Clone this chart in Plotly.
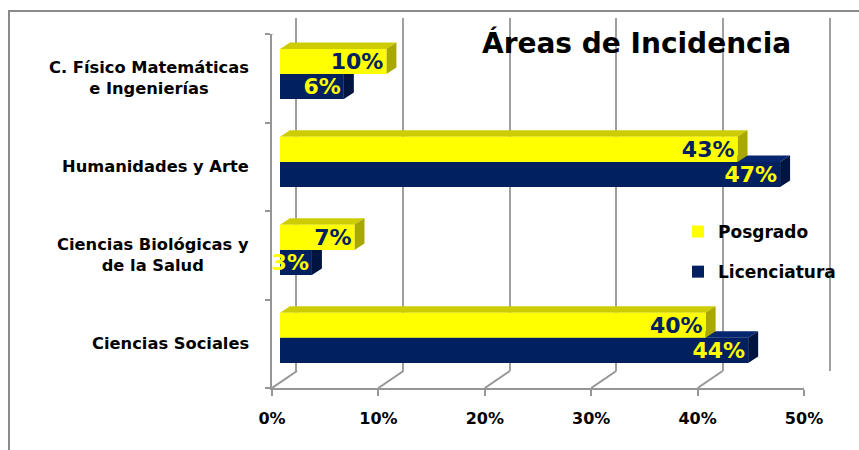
import plotly.graph_objects as go

# ---------------- data ----------------
categorias = [
    "Ciencias Sociales",
    "Ciencias Biológicas y<br>de la Salud",
    "Humanidades y Arte",
    "C. Físico Matemáticas<br>e Ingenierías",
]
posgrado = [40, 7, 43, 10]
licenciatura = [44, 3, 47, 6]
serie_pos = "Posgrado"
serie_lic = "Licenciatura"
xticks = [0, 10, 20, 30, 40, 50]
titulo = "Áreas de Incidencia"

# ---------------- style ----------------
W, H = 859, 450
FONT = "DejaVu Sans"
YELLOW, YELLOW_TOP, YELLOW_SIDE = "#FFFF00", "#CCCC00", "#A8A800"
NAVY, NAVY_TOP, NAVY_SIDE = "#002060", "#062670", "#001440"
GRID = "#A0A0A0"
AXIS = "#969696"
BORDER = "#8A8A8A"

XMAX = xticks[-1]
BARGAP = 0.43
bw = (1 - BARGAP) / 2

# pixel frames
FRONT = dict(x0=272, x1=804, ytop=34, ybot=388)
BACK = dict(x0=297, x1=829, ytop=18, ybot=371)
BARS = dict(x0=280, x1=812, ytop=30, ybot=381.8)
WALL_DX = BACK["x0"] - FRONT["x0"]
WALL_DY = FRONT["ybot"] - BACK["ybot"]
BAR_DX_PX, BAR_DY_PX = 10, 6.5


def xd(a, b):
    return [a / W, b / W]


def yd(top, bot):
    return [1 - bot / H, 1 - top / H]


n = len(categorias)
pos = list(range(n))
ux = XMAX / (BARS["x1"] - BARS["x0"])
uy = n / (BARS["ybot"] - BARS["ytop"])
ddx, ddy = BAR_DX_PX * ux, BAR_DY_PX * uy


def faces(values, centers):
    tx, ty, sx, sy = [], [], [], []
    for v, c in zip(values, centers):
        t, b = c + bw / 2, c - bw / 2
        tx += [0, v, v + ddx, ddx, 0, None]
        ty += [t, t, t + ddy, t + ddy, t, None]
        sx += [v, v + ddx, v + ddx, v, v, None]
        sy += [t, t + ddy, b + ddy, b, t, None]
    return tx, ty, sx, sy


c_lic = [p - bw / 2 for p in pos]
c_pos = [p + bw / 2 for p in pos]

fig = go.Figure()
# back wall placeholder (subplot xy)
fig.add_trace(go.Scatter(x=[None], y=[None], xaxis="x", yaxis="y", showlegend=False, hoverinfo="skip"))

# 3D faces (subplot x2y2): navy first, yellow over it
for vals, cents, ctop, cside in [
    (licenciatura, c_lic, NAVY_TOP, NAVY_SIDE),
    (posgrado, c_pos, YELLOW_TOP, YELLOW_SIDE),
]:
    tx, ty, sx, sy = faces(vals, cents)
    fig.add_trace(go.Scatter(x=tx, y=ty, xaxis="x2", yaxis="y2", fill="toself", fillcolor=ctop,
                             mode="lines", line=dict(width=0, color=ctop), showlegend=False, hoverinfo="skip"))
    fig.add_trace(go.Scatter(x=sx, y=sy, xaxis="x2", yaxis="y2", fill="toself", fillcolor=cside,
                             mode="lines", line=dict(width=0, color=cside), showlegend=False, hoverinfo="skip"))

# front faces (subplot x3y3)
for name, vals, col, tcol, rank in [
    (serie_lic, licenciatura, NAVY, YELLOW, 2),
    (serie_pos, posgrado, YELLOW, NAVY, 1),
]:
    fig.add_trace(go.Bar(
        name=name, x=vals, y=pos, orientation="h", xaxis="x3", yaxis="y3",
        marker=dict(color=col, line=dict(width=0)),
        text=[f"{v}%" for v in vals], textposition="inside", insidetextanchor="end",
        textangle=0, constraintext="none", cliponaxis=False,
        insidetextfont=dict(family=FONT, size=22, color=tcol, weight="bold"),
        legendgroup=name, legendrank=rank, hoverinfo="skip",
    ))

# front axes placeholder (subplot x4y4)
fig.add_trace(go.Scatter(x=[None], y=[None], xaxis="x4", yaxis="y4", showlegend=False, hoverinfo="skip"))

hidden = dict(visible=False, fixedrange=True, automargin=False)
fig.update_layout(
    width=W, height=H, autosize=False,
    margin=dict(l=0, r=0, t=0, b=0, pad=0, autoexpand=False),
    paper_bgcolor="white", plot_bgcolor="rgba(0,0,0,0)",
    barmode="group", bargap=BARGAP, bargroupgap=0,
    xaxis=dict(domain=xd(BACK["x0"], BACK["x1"]), range=[0, XMAX], anchor="y",
               tickvals=xticks, showgrid=True, gridcolor=GRID, gridwidth=2,
               showticklabels=False, ticks="", zeroline=False, showline=False,
               fixedrange=True, automargin=False),
    yaxis=dict(domain=yd(BACK["ytop"], BACK["ybot"]), range=[0, 1], anchor="x",
               showgrid=False, showline=True, mirror=True, linecolor=GRID, linewidth=2,
               showticklabels=False, ticks="", zeroline=False, fixedrange=True, automargin=False),
    xaxis2=dict(domain=xd(BARS["x0"], BARS["x1"]), range=[0, XMAX], anchor="y2", **hidden),
    yaxis2=dict(domain=yd(BARS["ytop"], BARS["ybot"]), range=[-0.5, n - 0.5], anchor="x2", **hidden),
    xaxis3=dict(domain=xd(BARS["x0"], BARS["x1"]), range=[0, XMAX], anchor="y3", **hidden),
    yaxis3=dict(domain=yd(BARS["ytop"], BARS["ybot"]), range=[-0.5, n - 0.5], anchor="x3", **hidden),
    xaxis4=dict(domain=xd(FRONT["x0"], FRONT["x1"]), range=[0, XMAX], anchor="y4",
                tickvals=xticks, ticktext=[f"{t}%" for t in xticks],
                ticks="outside", ticklen=6, tickwidth=2, tickcolor=AXIS,
                showline=True, linecolor=AXIS, linewidth=2, showgrid=False, zeroline=False,
                tickfont=dict(family=FONT, size=16, color="black", weight="bold"),
                ticklabelstandoff=9, fixedrange=True, automargin=False),
    yaxis4=dict(domain=yd(FRONT["ytop"], FRONT["ybot"]), range=[-0.5, n - 0.5], anchor="x4",
                tickvals=[p - 0.5 for p in pos] + [n - 0.5],
                ticks="outside", ticklen=5, tickwidth=2, tickcolor=AXIS,
                showticklabels=False, showline=True, linecolor=AXIS, linewidth=2,
                showgrid=False, zeroline=False, fixedrange=True, automargin=False),
    legend=dict(x=678 / W, y=1 - 214 / H, xanchor="left", yanchor="top",
                bgcolor="rgba(0,0,0,0)", borderwidth=0, tracegroupgap=15,
                font=dict(family=FONT, size=17, color="black", weight="bold")),
    showlegend=True,
)

shapes = []
for t in xticks:
    shapes.append(dict(type="line", xref="x4", yref="y4", xsizemode="pixel", ysizemode="pixel",
                       xanchor=t, yanchor=-0.5, x0=0, x1=WALL_DX, y0=0, y1=WALL_DY,
                       line=dict(color=AXIS, width=2)))
shapes.append(dict(type="line", xref="x4", yref="y4", xsizemode="pixel", ysizemode="pixel",
                   xanchor=0, yanchor=n - 0.5, x0=0, x1=WALL_DX, y0=0, y1=WALL_DY,
                   line=dict(color=AXIS, width=2)))
shapes.append(dict(type="path", xref="paper", yref="paper",
                   path=f"M {9 / W},0 L {9 / W},{1 - 11 / H} L 1,{1 - 11 / H}",
                   line=dict(color=BORDER, width=2)))
fig.update_layout(shapes=shapes)

annotations = [dict(text=titulo, xref="paper", yref="paper", x=636 / W, y=1 - 43 / H,
                    xanchor="center", yanchor="middle", showarrow=False,
                    font=dict(family=FONT, size=28, color="black", weight="bold"))]
for p, c in zip(pos, categorias):
    annotations.append(dict(text=c, xref="paper", yref="y4", x=251 / W, y=p,
                            xanchor="right", yanchor="middle", align="center", showarrow=False,
                            font=dict(family=FONT, size=16.3, color="black", weight="bold")))
fig.update_layout(annotations=annotations)

fig.write_html(
    "out.html",
    config={"displayModeBar": False, "staticPlot": True},
    post_script="document.body.style.margin='0';document.body.style.overflow='hidden';",
)
